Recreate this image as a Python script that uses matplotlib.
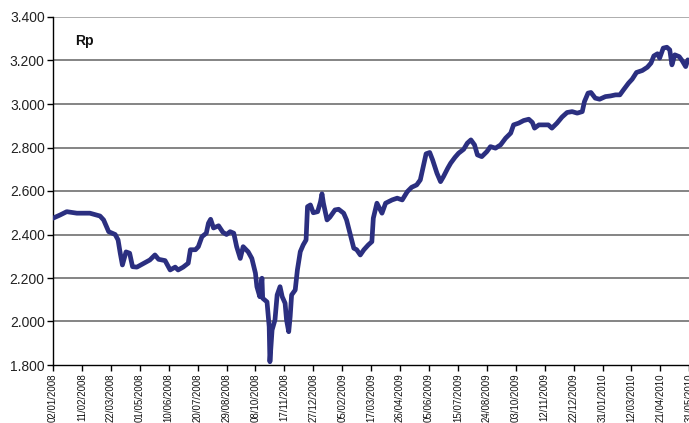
import numpy as np
import pandas as pd
import matplotlib
matplotlib.use("Agg")
import matplotlib.pyplot as plt
import matplotlib.dates as mdates

plt.rcParams['font.family'] = ['Liberation Sans', 'DejaVu Sans']

# days since 02/01/2008 and Rp values
days = [0, 10, 19, 33, 51, 65, 70, 77, 86, 90, 93, 96, 101, 106, 110, 116, 127, 134,
        141, 146, 155, 162, 169, 173, 180, 187, 190, 197, 201, 206, 212, 215, 218, 222,
        229, 235, 240, 245, 250, 254, 259, 263, 270, 275, 280, 282, 286, 289, 290, 296,
        299, 300, 303, 307, 310, 314, 317, 321, 323, 326, 328, 330, 335, 338, 342, 346,
        350, 352, 356, 360, 366, 370, 372, 374, 379, 383, 390, 395, 402, 406, 413, 416,
        420, 425, 430, 436, 441, 443, 448, 455, 460, 469, 476, 483, 490, 496, 503, 508,
        512, 516, 521, 525, 531, 536, 540, 546, 550, 556, 561, 568, 573, 578, 583, 587,
        593, 600, 605, 612, 619, 626, 633, 637, 644, 651, 658, 663, 666, 672, 676, 685,
        690, 697, 704, 711, 718, 725, 732, 735, 740, 744, 750, 756, 764, 771, 778, 784,
        789, 796, 801, 807, 815, 822, 827, 831, 836, 839, 844, 849, 853, 856, 860, 866,
        870, 875, 878]
rp = [2.475, 2.49, 2.505, 2.498, 2.498, 2.485, 2.467, 2.413, 2.40, 2.375, 2.314, 2.26,
      2.32, 2.314, 2.252, 2.25, 2.27, 2.283, 2.306, 2.286, 2.28, 2.237, 2.25, 2.237,
      2.25, 2.268, 2.33, 2.33, 2.344, 2.39, 2.406, 2.452, 2.47, 2.43, 2.44, 2.41, 2.40,
      2.413, 2.406, 2.344, 2.29, 2.344, 2.32, 2.29, 2.222, 2.16, 2.114, 2.199, 2.107,
      2.09, 1.976, 1.815, 1.961, 2.007, 2.122, 2.16, 2.114, 2.084, 2.007, 1.953, 2.022,
      2.122, 2.145, 2.237, 2.321, 2.352, 2.375, 2.528, 2.536, 2.50, 2.505, 2.551, 2.587,
      2.544, 2.467, 2.48, 2.513, 2.516, 2.498, 2.467, 2.375, 2.337, 2.33, 2.306, 2.33,
      2.352, 2.367, 2.475, 2.544, 2.498, 2.544, 2.559, 2.567, 2.559, 2.597, 2.617, 2.628,
      2.651, 2.712, 2.771, 2.777, 2.743, 2.682, 2.643, 2.666, 2.705, 2.728, 2.755, 2.774,
      2.792, 2.82, 2.835, 2.812, 2.766, 2.758, 2.781, 2.804, 2.797, 2.812, 2.843, 2.866,
      2.904, 2.912, 2.924, 2.93, 2.915, 2.889, 2.904, 2.904, 2.904, 2.889, 2.912, 2.94,
      2.961, 2.965, 2.958, 2.965, 3.011, 3.05, 3.053, 3.027, 3.022, 3.034, 3.037, 3.042,
      3.042, 3.065, 3.096, 3.114, 3.145, 3.154, 3.169, 3.188, 3.221, 3.231, 3.211, 3.257,
      3.261, 3.249, 3.18, 3.226, 3.218, 3.2, 3.172, 3.203]

tick_labels = ["02/01/2008", "11/02/2008", "22/03/2008", "01/05/2008", "10/06/2008",
               "20/07/2008", "29/08/2008", "08/10/2008", "17/11/2008", "27/12/2008",
               "05/02/2009", "17/03/2009", "26/04/2009", "05/06/2009", "15/07/2009",
               "24/08/2009", "03/10/2009", "12/11/2009", "22/12/2009", "31/01/2010",
               "12/03/2010", "21/04/2010", "31/05/2010"]
y_ticks = [1.8, 2.0, 2.2, 2.4, 2.6, 2.8, 3.0, 3.2, 3.4]

start = pd.Timestamp("2008-01-02")
dates = start + pd.to_timedelta(days, unit="D")
tick_dates = pd.to_datetime(tick_labels, format="%d/%m/%Y")

fig = plt.figure(figsize=(6.89, 4.23), dpi=100)
ax = fig.add_axes([53 / 689, 58 / 423, 637 / 689, 348 / 423])

for y in y_ticks[1:]:
    c = '#a0a0a0' if y == 3.4 else '#707070'
    ax.axhline(y, color=c, lw=1.2, zorder=1)

ax.plot(dates, rp, color='#2B2F80', lw=3.4, solid_joinstyle='round',
        solid_capstyle='round', zorder=3)

ax.set_ylim(1.8, 3.4)
ax.set_xlim(start, tick_dates[-1] + pd.Timedelta(days=1))
ax.set_yticks(y_ticks)
ax.set_yticklabels([f"{v:.3f}" for v in y_ticks], fontsize=10, color='#222222')
ax.set_xticks(tick_dates)
ax.set_xticklabels(tick_labels, rotation=90, fontsize=7, color='#111111')
ax.tick_params(axis='both', direction='out', length=4, width=1, color='black', pad=2)

for s in ['top', 'right']:
    ax.spines[s].set_visible(False)
for s in ['left', 'bottom']:
    ax.spines[s].set_color('black')
    ax.spines[s].set_linewidth(1)

# series label in the top left corner
ax.text(0.035, 0.932, "Rp", transform=ax.transAxes, fontsize=10, fontweight='bold',
        color='#111111', va='center', ha='left')

fig.savefig("out.png", dpi=100)
